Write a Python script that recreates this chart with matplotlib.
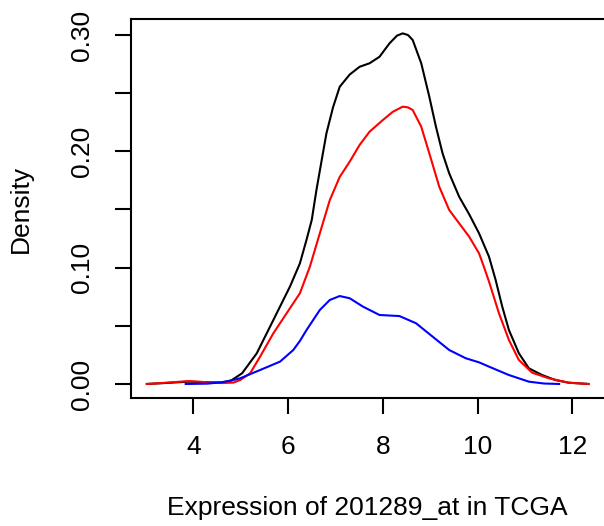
import matplotlib
matplotlib.use("Agg")
import matplotlib.pyplot as plt

plt.rcParams['font.family'] = ['Liberation Sans', 'DejaVu Sans']

# density curves (x = expression, y = density)
all_x = [3.02, 3.4, 3.9, 4.3, 4.6, 4.8, 5.03, 5.34, 5.69, 6.04, 6.25, 6.39, 6.50,
         6.60, 6.71, 6.81, 6.95, 7.09, 7.30, 7.51, 7.72, 7.93, 8.14, 8.30, 8.42,
         8.53, 8.63, 8.81, 8.98, 9.12, 9.26, 9.40, 9.61, 9.82, 10.03, 10.24, 10.38,
         10.52, 10.66, 10.87, 11.08, 11.36, 11.64, 11.92, 12.34]
all_y = [0.0, 0.0008, 0.002, 0.0015, 0.0012, 0.003, 0.0092, 0.0264, 0.055, 0.0837, 0.1037,
         0.124, 0.141, 0.167, 0.1925, 0.2155, 0.238, 0.2555, 0.266, 0.2727, 0.2757, 0.2813,
         0.2928, 0.2995, 0.3014, 0.300, 0.2957, 0.2757, 0.247, 0.2212, 0.1983, 0.1811, 0.161,
         0.146, 0.1295, 0.1094, 0.0894, 0.0664, 0.0464, 0.0264, 0.0135, 0.0077, 0.0034,
         0.0011, 0.0]

red_x = [3.02, 3.4, 3.9, 4.3, 4.6, 4.85, 4.99, 5.20, 5.41, 5.69, 5.97, 6.25, 6.46,
         6.67, 6.88, 7.09, 7.30, 7.51, 7.72, 8.00, 8.21, 8.42, 8.53, 8.63, 8.81,
         8.98, 9.19, 9.40, 9.61, 9.82, 10.03, 10.13, 10.24, 10.45, 10.66, 10.87, 11.15,
         11.50, 11.92, 12.34]
red_y = [0.0, 0.001, 0.0025, 0.0015, 0.0008, 0.0012, 0.0034, 0.0092, 0.0235, 0.0436, 0.0608,
         0.078, 0.1008, 0.1295, 0.158, 0.178, 0.1911, 0.2055, 0.2169, 0.2269, 0.234, 0.2384,
         0.2378, 0.2355, 0.2212, 0.1983, 0.1696, 0.1496, 0.1381, 0.1267, 0.1123, 0.101, 0.088,
         0.0608, 0.0378, 0.0206, 0.0097, 0.0049, 0.0011, 0.0]

blue_x = [3.84, 4.3, 4.6, 4.8, 4.99, 5.41, 5.83, 6.11, 6.25, 6.39, 6.67, 6.88, 7.09, 7.30,
          7.58, 7.93, 8.35, 8.70, 9.05, 9.40, 9.75, 10.03, 10.24, 10.66, 11.08, 11.40, 11.72]
blue_y = [0.0, 0.0003, 0.0015, 0.003, 0.0049, 0.012, 0.0192, 0.0292, 0.037, 0.0464, 0.0636,
          0.0722, 0.0756, 0.0737, 0.0665, 0.0593, 0.0584, 0.0522, 0.0407, 0.0292, 0.0221,
          0.0186, 0.0149, 0.0077, 0.002, 0.0004, 0.0]

xticks = [4, 6, 8, 10, 12]
yticks = [0.00, 0.05, 0.10, 0.15, 0.20, 0.25, 0.30]
ylabels = ['0.00', '', '0.10', '', '0.20', '', '0.30']

fig = plt.figure(figsize=(6.04, 5.26), dpi=100)
# plot box runs off the right edge like the original
ax = fig.add_axes([0.2164, 0.2439, 0.7886, 0.7194])

ax.plot(all_x, all_y, color='black', lw=1.5, solid_joinstyle='round')
ax.plot(red_x, red_y, color='red', lw=1.5, solid_joinstyle='round')
ax.plot(blue_x, blue_y, color='blue', lw=1.5, solid_joinstyle='round')

ax.set_xlim(2.68, 12.73)
ax.set_ylim(-0.0118, 0.3135)
ax.set_xticks(xticks)
ax.set_xticklabels([str(t) for t in xticks])
ax.set_yticks(yticks)
ax.set_yticklabels(ylabels, rotation=90, va='center')

for s in ax.spines.values():
    s.set_linewidth(1.5)
ax.tick_params(axis='both', length=11.5, width=1.5, labelsize=19, pad=15)

ax.set_xlabel('Expression of 201289_at in TCGA', fontsize=19)
ax.xaxis.set_label_coords(0.496, -0.26)
ax.set_ylabel('Density', fontsize=19)
ax.yaxis.set_label_coords(-0.205, 0.5)

plt.savefig('out.png', dpi=100)
